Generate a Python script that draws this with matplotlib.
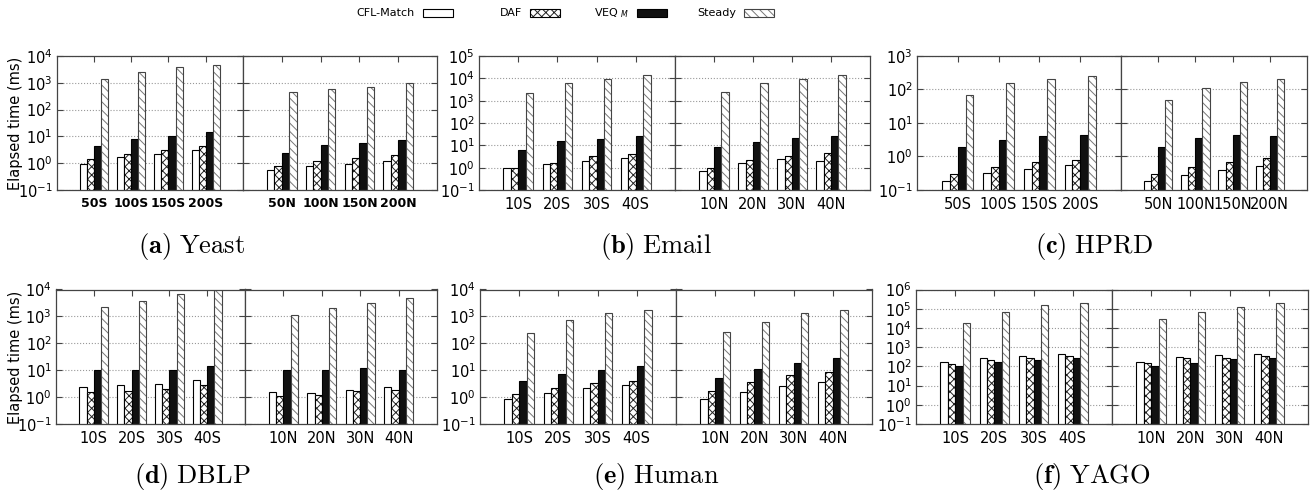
import numpy as np
import matplotlib
matplotlib.use('Agg')
import matplotlib.pyplot as plt
from matplotlib.patches import Rectangle
from matplotlib.ticker import NullLocator, FixedLocator

plt.rcParams['font.family'] = ['DejaVu Sans']
plt.rcParams['hatch.linewidth'] = 0.7

series = ['CFL-Match', 'DAF', 'VEQ$_{\\ M}$', 'Steady']

# ---- data (ms), left half = S queries, right half = N queries ----
yeast_labels = ['50S', '100S', '150S', '200S', '50N', '100N', '150N', '200N']
yeast_cfl = [0.95, 1.75, 2.3, 3.1, 0.56, 0.82, 0.94, 1.26]
yeast_daf = [1.4, 2.2, 3.1, 4.2, 0.8, 1.25, 1.5, 2.0]
yeast_veq = [4.2, 7.9, 10, 14, 2.5, 4.6, 5.6, 7.1]
yeast_steady = [1400, 2500, 3800, 4700, 450, 600, 700, 1000]

email_labels = ['10S', '20S', '30S', '40S', '10N', '20N', '30N', '40N']
email_cfl = [0.95, 1.4, 2.0, 2.6, 0.73, 1.6, 2.4, 2.0]
email_daf = [0.95, 1.6, 3.3, 4.0, 0.95, 2.1, 3.4, 4.5]
email_veq = [6.3, 15, 18.5, 27, 8, 14, 22, 25]
email_steady = [2200, 6200, 9300, 14000, 2400, 6000, 9500, 14500]

hprd_labels = ['50S', '100S', '150S', '200S', '50N', '100N', '150N', '200N']
hprd_cfl = [0.185, 0.32, 0.42, 0.54, 0.18, 0.28, 0.40, 0.52]
hprd_daf = [0.30, 0.50, 0.70, 0.81, 0.30, 0.48, 0.70, 0.88]
hprd_veq = [1.9, 3.2, 4.0, 4.4, 1.9, 3.5, 4.4, 4.2]
hprd_steady = [68, 155, 210, 260, 47, 110, 165, 210]

dblp_labels = ['10S', '20S', '30S', '40S', '10N', '20N', '30N', '40N']
dblp_cfl = [2.3, 2.7, 3.2, 4.3, 1.55, 1.45, 1.8, 2.3]
dblp_daf = [1.6, 1.7, 2.0, 2.9, 1.1, 1.15, 1.7, 1.8]
dblp_veq = [10, 10, 10, 14.5, 10, 10, 12, 10]
dblp_steady = [2300, 3900, 7000, 10000, 1100, 2000, 3200, 5000]

human_labels = ['10S', '20S', '30S', '40S', '10N', '20N', '30N', '40N']
human_cfl = [0.82, 1.45, 2.1, 2.9, 0.82, 1.5, 2.5, 3.6]
human_daf = [1.25, 2.1, 3.3, 4.1, 1.7, 3.6, 6.4, 8.7]
human_veq = [3.9, 7.1, 10, 14, 5.3, 11, 19, 29]
human_steady = [240, 730, 1350, 1800, 270, 640, 1350, 1800]

yago_labels = ['10S', '20S', '30S', '40S', '10N', '20N', '30N', '40N']
yago_cfl = [170, 260, 330, 430, 170, 300, 390, 450]
yago_daf = [130, 210, 270, 340, 150, 260, 270, 350]
yago_veq = [100, 170, 215, 260, 100, 150, 230, 260]
yago_steady = [19000, 67000, 160000, 190000, 29000, 67000, 130000, 210000]

W, H = 1316, 494
fig = plt.figure(figsize=(W / 100, H / 100), dpi=100)


def fx(px):
    return px / W


def fy(py):
    return 1 - py / H


edge_col = '#444444'
bw = 0.19
offs = np.array([-1.5, -0.5, 0.5, 1.5]) * bw

# (face, hatch colour, hatch, outline)
styles = [
    ('white', 'black', None, 'black'),
    ('white', '#222222', 'xxxx', 'black'),
    ('#111111', 'black', None, 'black'),
    ('white', '#777777', '\\\\\\\\', '#444444'),
]


def draw_half(ax, labels, vals, ymax, first, lsize, bold):
    x = np.arange(1, 5)
    ax.set_yscale('log')
    for k, (v, (fc, hc, hatch, oc)) in enumerate(zip(vals, styles)):
        if hatch:
            ax.bar(x + offs[k], v, bw, color=fc, edgecolor=hc, hatch=hatch, lw=0, zorder=2)
            ax.bar(x + offs[k], v, bw, fill=False, edgecolor=oc, lw=0.8, zorder=3)
        else:
            ax.bar(x + offs[k], v, bw, color=fc, edgecolor=oc, lw=0.8, zorder=2)
    ax.set_xlim(0, 5)
    ax.set_ylim(0.1, 10.0 ** ymax)
    ax.yaxis.set_major_locator(FixedLocator(10.0 ** np.arange(-1, ymax + 1)))
    ax.yaxis.set_minor_locator(NullLocator())
    ax.set_xticks(x)
    ax.set_xticklabels(labels, fontsize=lsize, fontweight='bold' if bold else 'normal')
    ax.tick_params(axis='both', direction='in', top=True, right=True, length=4,
                   color=edge_col, width=0.8)
    ax.tick_params(axis='x', pad=5)
    ax.tick_params(axis='y', labelsize=10.5, labelleft=first, pad=3)
    ax.yaxis.grid(True, linestyle=':', color='#999999', lw=0.8)
    ax.set_axisbelow(True)
    for s in ax.spines.values():
        s.set_color(edge_col)
        s.set_linewidth(0.9)


panels = [
    (yeast_labels, (yeast_cfl, yeast_daf, yeast_veq, yeast_steady), 4, (56.7, 243, 437), (56, 190), 9, True,
     r'$\mathbf{(a)}\ \mathrm{Yeast}$', (192, 247)),
    (email_labels, (email_cfl, email_daf, email_veq, email_steady), 5, (479, 675, 870), (56, 190), 10.5, False,
     r'$\mathbf{(b)}\ \mathrm{Email}$', (656, 247)),
    (hprd_labels, (hprd_cfl, hprd_daf, hprd_veq, hprd_steady), 3, (917, 1121, 1307), (56, 190), 10.5, False,
     r'$\mathbf{(c)}\ \mathrm{HPRD}$', (1094, 247)),
    (dblp_labels, (dblp_cfl, dblp_daf, dblp_veq, dblp_steady), 4, (56, 245, 437), (289.5, 424), 10.5, False,
     r'$\mathbf{(d)}\ \mathrm{DBLP}$', (192, 476)),
    (human_labels, (human_cfl, human_daf, human_veq, human_steady), 4, (480, 676, 872), (289.5, 424), 10.5, False,
     r'$\mathbf{(e)}\ \mathrm{Human}$', (656, 476)),
    (yago_labels, (yago_cfl, yago_daf, yago_veq, yago_steady), 6, (916, 1112, 1308), (289.5, 424), 10.5, False,
     r'$\mathbf{(f)}\ \mathrm{YAGO}$', (1092, 476)),
]

for labels, vals, ymax, (l, m, r), (t, b), lsize, bold, cap, (cx, cy) in panels:
    axl = fig.add_axes([fx(l), fy(b), fx(m - l), (b - t) / H])
    axr = fig.add_axes([fx(m), fy(b), fx(r - m), (b - t) / H])
    draw_half(axl, labels[:4], [v[:4] for v in vals], ymax, True, lsize, bold)
    draw_half(axr, labels[4:], [v[4:] for v in vals], ymax, False, lsize, bold)
    fig.text(fx(cx), fy(cy), cap, ha='center', va='center', fontsize=19, math_fontfamily='cm')

fig.text(fx(16), fy(123), 'Elapsed time (ms)', rotation=90, ha='center', va='center', fontsize=10.5)
fig.text(fx(16), fy(357), 'Elapsed time (ms)', rotation=90, ha='center', va='center', fontsize=10.5)

# gnuplot-style key: text right-aligned before each sample box
for i, (name, (fc, hc, hatch, oc)) in enumerate(zip(series, styles)):
    bx = 423 + 107 * i
    fig.text(fx(bx - 8), fy(13), name, ha='right', va='center', fontsize=8)
    if hatch:
        fig.patches.append(Rectangle((fx(bx), fy(17)), fx(30), 8 / H, transform=fig.transFigure,
                                     facecolor=fc, edgecolor=hc, hatch=hatch, lw=0))
    fig.patches.append(Rectangle((fx(bx), fy(17)), fx(30), 8 / H, transform=fig.transFigure,
                                 facecolor=fc if not hatch else 'none', edgecolor=oc, lw=0.8))

fig.savefig('out.png', dpi=100)
